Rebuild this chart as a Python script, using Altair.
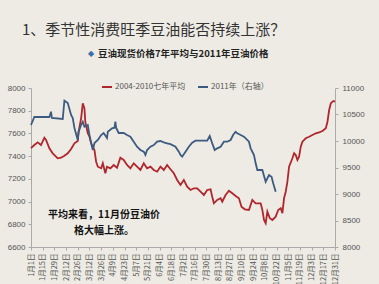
import altair as alt
import pandas as pd

# ---- data (day offset from Jan 1, price) ----
avg_days = [0, 4, 8, 12, 16, 18, 22, 26, 32, 36, 40, 44, 48, 52, 56, 57, 60, 62, 64, 65,
            68, 70, 72, 76, 78, 80, 84, 86, 89, 91, 95, 99, 103, 107, 111, 115, 119, 123,
            127, 131, 135, 139, 143, 147, 151, 155, 159, 163, 167, 171, 175, 179, 183, 187,
            191, 195, 199, 203, 207, 211, 215, 217, 219, 223, 227, 229, 233, 237, 241, 245,
            249, 252, 256, 261, 265, 269, 275, 277, 279, 281, 283, 286, 289, 293, 296, 299,
            301, 303, 305, 307, 309, 313, 315, 317, 319, 321, 323, 325, 329, 333, 337, 341,
            345, 349, 353, 355, 357, 359, 362, 364]
avg_price = [7470, 7498, 7522, 7498, 7562, 7542, 7469, 7425, 7381, 7386, 7404, 7425, 7463,
             7513, 7533, 7615, 7733, 7865, 7821, 7703, 7601, 7571, 7513, 7454, 7351, 7307,
             7293, 7337, 7249, 7307, 7293, 7322, 7298, 7386, 7366, 7322, 7293, 7337, 7307,
             7278, 7337, 7293, 7307, 7278, 7263, 7307, 7278, 7322, 7285, 7249, 7190, 7146,
             7190, 7131, 7102, 7117, 7117, 7087, 7058, 7102, 7108, 7043, 6985, 7014, 7029,
             6999, 7058, 7096, 7073, 7049, 7029, 6955, 6932, 6926, 7014, 6985, 6985, 6926,
             6838, 6809, 6911, 6853, 6838, 6867, 6926, 6941, 6897, 7029, 7087, 7175, 7307,
             7381, 7425, 7410, 7366, 7395, 7483, 7527, 7557, 7571, 7586, 7601, 7610, 7621,
             7645, 7703, 7806, 7865, 7886, 7880]

y2011_days = [0, 4, 22, 24, 25, 38, 40, 44, 48, 50, 52, 56, 57, 60, 62, 64, 68, 70, 72, 74,
              76, 80, 84, 87, 91, 92, 97, 100, 101, 102, 105, 111, 115, 119, 123, 127, 131,
              135, 137, 139, 143, 147, 151, 155, 159, 163, 167, 173, 177, 179, 181, 185, 189,
              193, 197, 203, 211, 214, 217, 220, 223, 227, 231, 235, 239, 242, 245, 247, 251,
              255, 261, 263, 267, 269, 271, 277, 281, 285, 288, 290, 293]
y2011_price = [10302, 10453, 10453, 10553, 10434, 10415, 10760, 10717, 10491, 10434, 10245,
               10019, 10170, 10302, 10364, 10270, 10302, 10113, 9962, 9830, 9962, 10019,
               10113, 10151, 10056, 10175, 10240, 10251, 10364, 10245, 10151, 10151, 10113,
               10081, 9987, 9892, 9830, 9798, 9736, 9830, 9892, 9924, 9987, 10000, 9975,
               9956, 9940, 9892, 9798, 9736, 9704, 9798, 9892, 9968, 10006, 10006, 10006,
               10094, 9956, 9830, 9862, 9892, 9987, 9987, 10019, 10113, 10175, 10145, 10113,
               10081, 9987, 9862, 9736, 9579, 9453, 9453, 9232, 9358, 9326, 9202, 9043]

series_names = ["2004-2010七年平均", "2011年（右轴）"]
series_colors = ["#B0262D", "#3D5A80"]
left_ticks = [6600, 6800, 7000, 7200, 7400, 7600, 7800, 8000]
right_ticks = [8000, 8500, 9000, 9500, 10000, 10500, 11000]

title_text = "1、季节性消费旺季豆油能否持续上涨？"
subtitle_text = "豆油现货价格7年平均与2011年豆油价格"
note_text = "平均来看，11月份豆油价\n格大幅上涨。"

start = pd.Timestamp("2011-01-01")


def to_dates(days):
    return [(start + pd.Timedelta(days=d)).strftime("%Y-%m-%d") for d in days]


avg_df = pd.DataFrame({"date": to_dates(avg_days), "price": avg_price, "series": series_names[0]})
y11_df = pd.DataFrame({"date": to_dates(y2011_days), "price": y2011_price, "series": series_names[1]})

tick_dates = [start + pd.Timedelta(days=14 * k) for k in range(27)]
tick_vals = [alt.DateTime(year=d.year, month=d.month, date=d.day, utc=True) for d in tick_dates]

axis_font = "Liberation Sans Narrow, Liberation Sans, Arial, sans-serif"
cjk = "Noto Sans CJK SC"

x_enc = alt.X(
    "date:T",
    scale=alt.Scale(type="utc", nice=False,
                    domain=[alt.DateTime(year=2011, month=1, date=1, utc=True),
                            alt.DateTime(year=2011, month=12, date=31, utc=True)]),
    axis=alt.Axis(values=tick_vals, labelExpr="utcFormat(datum.value, '%-m月%-d日')",
                  labelAngle=270, labelFontSize=7.5, labelFont=cjk, labelColor="#555",
                  tickSize=3, tickColor="#aaa", domainColor="#aaa", grid=False, title=None,
                  labelPadding=3, labelOverlap=False, labelFlush=False, labelBound=False),
)

color_scale = alt.Scale(domain=series_names, range=series_colors)

red = alt.Chart(avg_df).mark_line(strokeWidth=1.8).encode(
    x=x_enc,
    y=alt.Y("price:Q", scale=alt.Scale(domain=[6600, 8000], nice=False, zero=False),
            axis=alt.Axis(orient="left", values=left_ticks, format="d", labelFontSize=8,
                          labelFont=axis_font, labelColor="#555", tickSize=3, tickColor="#aaa",
                          domainColor="#aaa", grid=False, title=None, labelPadding=3)),
    color=alt.Color("series:N", scale=color_scale,
                    legend=alt.Legend(orient="none", legendX=70, legendY=-7, direction="horizontal",
                                      title=None, symbolType="stroke", symbolSize=100,
                                      symbolStrokeWidth=2, labelFontSize=8, labelFont=cjk,
                                      labelColor="#555", columnPadding=8, labelOffset=2)),
)

blue = alt.Chart(y11_df).mark_line(strokeWidth=1.8).encode(
    x=x_enc,
    y=alt.Y("price:Q", scale=alt.Scale(domain=[8000, 11000], nice=False, zero=False),
            axis=alt.Axis(orient="right", values=right_ticks, format="d", labelFontSize=8,
                          labelFont=axis_font, labelColor="#555", tickSize=3, tickColor="#aaa",
                          domainColor="#aaa", grid=False, title=None, labelPadding=4)),
    color=alt.Color("series:N", scale=color_scale),
)

one = pd.DataFrame({"k": [0]})

title = alt.Chart(one).mark_text(text=title_text, align="left", baseline="middle", fontSize=15,
                                 font=cjk, color="#333").encode(x=alt.value(-9), y=alt.value(-58))
diamond = alt.Chart(one).mark_text(text="◆", align="left", baseline="middle", fontSize=8,
                                   color="#3F6FAA").encode(x=alt.value(57), y=alt.value(-34))
subtitle = alt.Chart(one).mark_text(text=subtitle_text, align="left", baseline="middle", fontSize=9.5,
                                    font=cjk, fontWeight="bold", color="#222").encode(
    x=alt.value(67), y=alt.value(-34))
note = alt.Chart(one).mark_text(text=note_text, lineBreak="\n", lineHeight=16, align="center",
                                baseline="middle", fontSize=10, font=cjk, fontWeight="bold",
                                color="#111").encode(x=alt.value(73), y=alt.value(127))

chart = alt.layer(red, blue, title, diamond, subtitle, note).resolve_scale(
    y="independent"
).properties(
    width=304, height=159,
    autosize=alt.AutoSizeParams(type="none"),
    padding={"left": 31, "top": 88, "right": 44, "bottom": 37},
    background="#EDEBE4",
).configure_view(stroke=None)

chart.save("out.html", embed_options={"renderer": "svg", "actions": False})
